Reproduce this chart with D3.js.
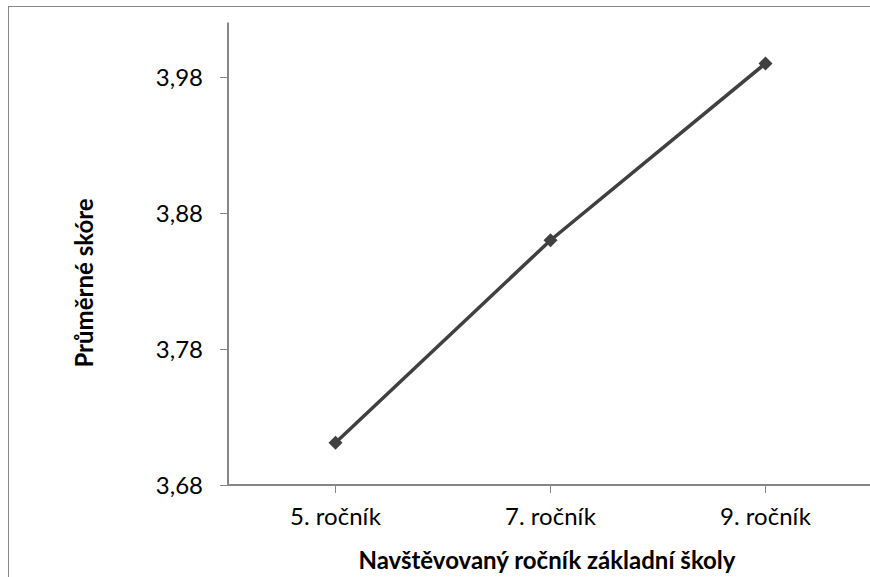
<!DOCTYPE html>
<html><head><meta charset="utf-8">
<script src="https://cdn.jsdelivr.net/npm/d3@7"></script>
<style>body{margin:0;background:#fff}svg{display:block}text{font-family:Lato,"Noto Sans",sans-serif}</style>
</head><body><svg id="c" width="870" height="577"></svg>
<script>
const categories = ["5. ročník", "7. ročník", "9. ročník"];
const values = [3.711, 3.860, 3.990];
const yTicks = [3.68, 3.78, 3.88, 3.98];
const xTitle = "Navštěvovaný ročník základní školy";
const yTitle = "Průměrné skóre";

const svg = d3.select("#c");
const L = 228, R = 873, T = 22.6, B = 485;
// chart border
svg.append("rect").attr("x", 8.5).attr("y", 6.5).attr("width", 900).attr("height", 700)
  .attr("fill", "none").attr("stroke", "#878787").attr("stroke-width", 1);

const x = d3.scaleBand().domain(categories).range([L, R]);
const y = d3.scaleLinear().domain([3.68, 4.02]).range([B, T]);
const fmt = d => d.toFixed(2).replace(".", ",");

const gy = svg.append("g").attr("transform", `translate(${L},0)`)
  .call(d3.axisLeft(y).tickValues(yTicks).tickFormat(fmt).tickSize(8).tickPadding(17));
gy.select(".domain").attr("stroke", "#868686").attr("stroke-width", 2).attr("d", `M0,${T}V${B}`);
gy.selectAll(".tick line").attr("stroke", "#868686").attr("stroke-width", 1);
gy.selectAll(".tick text").attr("font-size", 24).attr("fill", "#000").attr("font-family", "Lato").attr("dy", "0.36em");

const gx = svg.append("g").attr("transform", `translate(0,${B})`)
  .call(d3.axisBottom(x).tickSize(8).tickPadding(15));
gx.select(".domain").attr("stroke", "#868686").attr("stroke-width", 2).attr("d", `M${L},0H${R}`);
gx.selectAll(".tick line").attr("stroke", "#868686").attr("stroke-width", 1);
gx.selectAll(".tick text").attr("font-size", 24).attr("fill", "#000").attr("font-family", "Lato");

const cx = d => x(d) + x.bandwidth() / 2;
const line = d3.line().x((d, i) => cx(categories[i])).y(d => y(d));
svg.append("path").datum(values).attr("d", line).attr("fill", "none")
  .attr("stroke", "#404040").attr("stroke-width", 3.5);
svg.selectAll(".m").data(values).enter().append("path")
  .attr("d", d3.symbol().type(d3.symbolDiamond2).size(125))
  .attr("transform", (d, i) => `translate(${cx(categories[i])},${y(d)})`)
  .attr("fill", "#404040");

svg.append("text").attr("x", 547).attr("y", 569).attr("text-anchor", "middle")
  .attr("font-size", 24).attr("font-weight", "bold").text(xTitle);
svg.append("text").attr("transform", "translate(93,283) rotate(-90)").attr("text-anchor", "middle")
  .attr("font-size", 24).attr("font-weight", "bold").text(yTitle);
</script></body></html>
